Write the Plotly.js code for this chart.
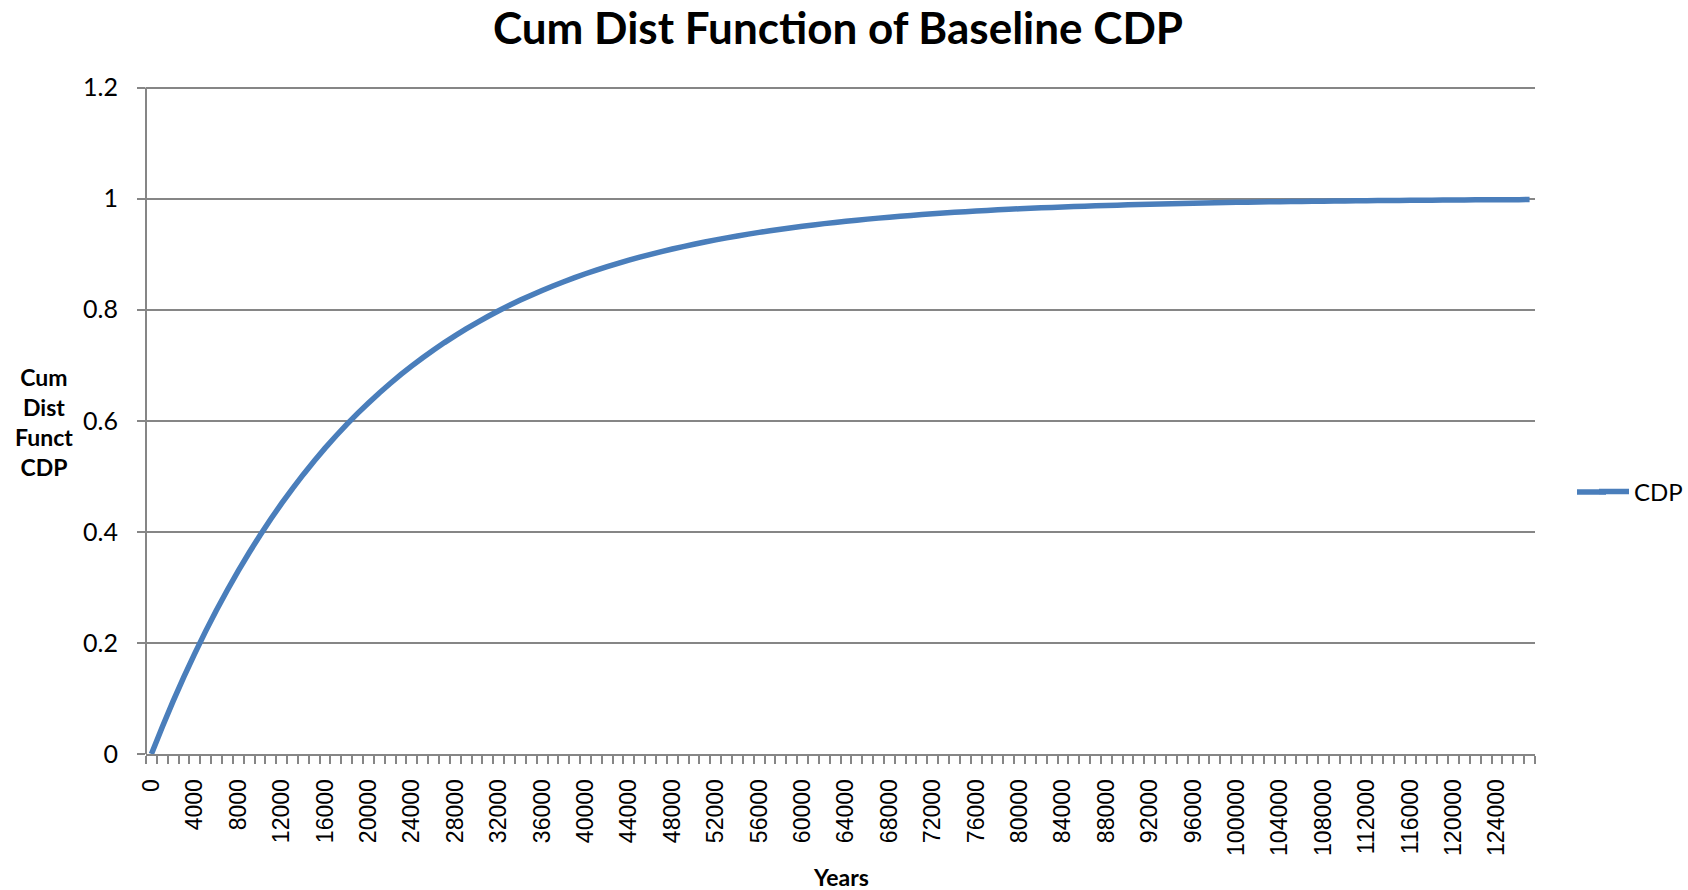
<!DOCTYPE html>
<html>
<head>
<meta charset="utf-8">
<script src="https://cdn.plot.ly/plotly-3.0.1.min.js"></script>
<style>html,body{margin:0;padding:0;background:#fff;}#chart{width:1688px;height:890px;}</style>
</head>
<body>
<div id="chart"></div>
<script>
// Years (category step 1000)
const years = [
0,1000,2000,3000,4000,5000,6000,7000,8000,9000,
10000,11000,12000,13000,14000,15000,16000,17000,18000,19000,
20000,21000,22000,23000,24000,25000,26000,27000,28000,29000,
30000,31000,32000,33000,34000,35000,36000,37000,38000,39000,
40000,41000,42000,43000,44000,45000,46000,47000,48000,49000,
50000,51000,52000,53000,54000,55000,56000,57000,58000,59000,
60000,61000,62000,63000,64000,65000,66000,67000,68000,69000,
70000,71000,72000,73000,74000,75000,76000,77000,78000,79000,
80000,81000,82000,83000,84000,85000,86000,87000,88000,89000,
90000,91000,92000,93000,94000,95000,96000,97000,98000,99000,
100000,101000,102000,103000,104000,105000,106000,107000,108000,109000,
110000,111000,112000,113000,114000,115000,116000,117000,118000,119000,
120000,121000,122000,123000,124000,125000,126000,127000
];
// CDP values
const cdp = [
0.0000,0.0488,0.0952,0.1393,0.1813,0.2212,0.2592,0.2953,0.3297,0.3624,
0.3935,0.4231,0.4512,0.4780,0.5034,0.5276,0.5507,0.5726,0.5934,0.6133,
0.6321,0.6501,0.6671,0.6834,0.6988,0.7135,0.7275,0.7408,0.7534,0.7654,
0.7769,0.7878,0.7981,0.8080,0.8173,0.8262,0.8347,0.8428,0.8504,0.8577,
0.8647,0.8713,0.8775,0.8835,0.8892,0.8946,0.8997,0.9046,0.9093,0.9137,
0.9179,0.9219,0.9257,0.9293,0.9328,0.9361,0.9392,0.9422,0.9450,0.9477,
0.9502,0.9526,0.9550,0.9571,0.9592,0.9612,0.9631,0.9649,0.9666,0.9683,
0.9698,0.9713,0.9727,0.9740,0.9753,0.9765,0.9776,0.9787,0.9798,0.9807,
0.9817,0.9826,0.9834,0.9842,0.9850,0.9857,0.9864,0.9871,0.9877,0.9883,
0.9889,0.9894,0.9899,0.9904,0.9909,0.9913,0.9918,0.9922,0.9926,0.9929,
0.9933,0.9936,0.9939,0.9942,0.9945,0.9948,0.9950,0.9953,0.9955,0.9957,
0.9959,0.9961,0.9963,0.9965,0.9967,0.9968,0.9970,0.9971,0.9973,0.9974,
0.9975,0.9976,0.9978,0.9979,0.9980,0.9981,0.9982,0.9983
];
const xTickVals = [0,4000,8000,12000,16000,20000,24000,28000,32000,36000,40000,44000,48000,52000,56000,60000,64000,68000,72000,76000,80000,84000,88000,92000,96000,100000,104000,108000,112000,116000,120000,124000];
const xTickText = xTickVals.map(String);
const yTickVals = [0,0.2,0.4,0.6,0.8,1,1.2];
const yTickText = ['0','0.2','0.4','0.6','0.8','1','1.2'];

const grey = '#868686';
const blue = '#4a7ebb';
// plot area in pixels: x 146..1535, y 82..754
const PL = 146, PW = 1389, PT = 82, PH = 672;
const px = v => (v - PL) / PW;
const py = v => (PT + PH - v) / PH;

const trace = {
  x: years, y: cdp, type: 'scatter', mode: 'lines', name: 'CDP',
  line: {color: blue, width: 5.5, simplify: false}
};
const layout = {
  width: 1688, height: 890,
  margin: {l: 146, r: 153, t: 82, b: 136},
  paper_bgcolor: '#fff', plot_bgcolor: '#fff',
  title: {
    text: '<b>Cum Dist Function of Baseline CDP</b>',
    font: {family: 'Lato', size: 44, color: '#000'},
    x: 0.4982, xref: 'paper', xanchor: 'center',
    y: 1 - 29/890, yref: 'container', yanchor: 'middle'
  },
  xaxis: {
    range: [-500, 127500], fixedrange: true,
    tickmode: 'array', tickvals: xTickVals, ticktext: xTickText,
    tickangle: -90, ticks: '', ticklabelstandoff: 14,
    tickfont: {family: 'Liberation Sans', size: 23, color: '#000'},
    showgrid: false, zeroline: false,
    showline: true, linecolor: grey, linewidth: 2,
    minor: {tick0: -500, dtick: 1000, ticks: 'outside', ticklen: 8, tickcolor: grey, tickwidth: 2, showgrid: false},
    title: {text: ''}
  },
  yaxis: {
    range: [0, 1.21], fixedrange: true,
    tickmode: 'array', tickvals: yTickVals, ticktext: yTickText,
    ticks: 'outside', ticklen: 8, tickcolor: grey, tickwidth: 2,
    ticklabelstandoff: 14,
    tickfont: {family: 'Lato', size: 25, color: '#000'},
    showgrid: true, gridcolor: grey, gridwidth: 2,
    zeroline: false, showline: false,
    title: {text: ''}
  },
  showlegend: true,
  legend: {
    xref: 'container', yref: 'container',
    x: 1594/1688, y: 1 - 492/890, xanchor: 'left', yanchor: 'middle',
    font: {family: 'Lato', size: 24, color: '#000'},
    bgcolor: 'rgba(0,0,0,0)', borderwidth: 0
  },
  shapes: [
    // y axis line from 0 up to the 1.2 gridline
    {type: 'line', xref: 'paper', yref: 'y', x0: 0, x1: 0, y0: 0, y1: 1.2,
     line: {color: grey, width: 2}, layer: 'below'},
    // extends the legend key line to the reference's length
    {type: 'line', xref: 'paper', yref: 'paper', x0: px(1577), x1: px(1606), y0: py(492), y1: py(492),
     line: {color: blue, width: 5.5}}
  ],
  annotations: [
    {text: '<b>Cum<br>Dist<br>Funct<br>CDP</b>', xref: 'paper', yref: 'paper',
     x: px(44), y: py(422), xanchor: 'center', yanchor: 'middle', showarrow: false, align: 'center',
     font: {family: 'Lato', size: 23, color: '#000'}},
    {text: '<b>Years</b>', xref: 'paper', yref: 'paper',
     x: px(841), y: py(877), xanchor: 'center', yanchor: 'middle', showarrow: false,
     font: {family: 'Lato', size: 23, color: '#000'}}
  ]
};
Plotly.newPlot('chart', [trace], layout, {displayModeBar: false, staticPlot: true});
</script>
</body>
</html>
